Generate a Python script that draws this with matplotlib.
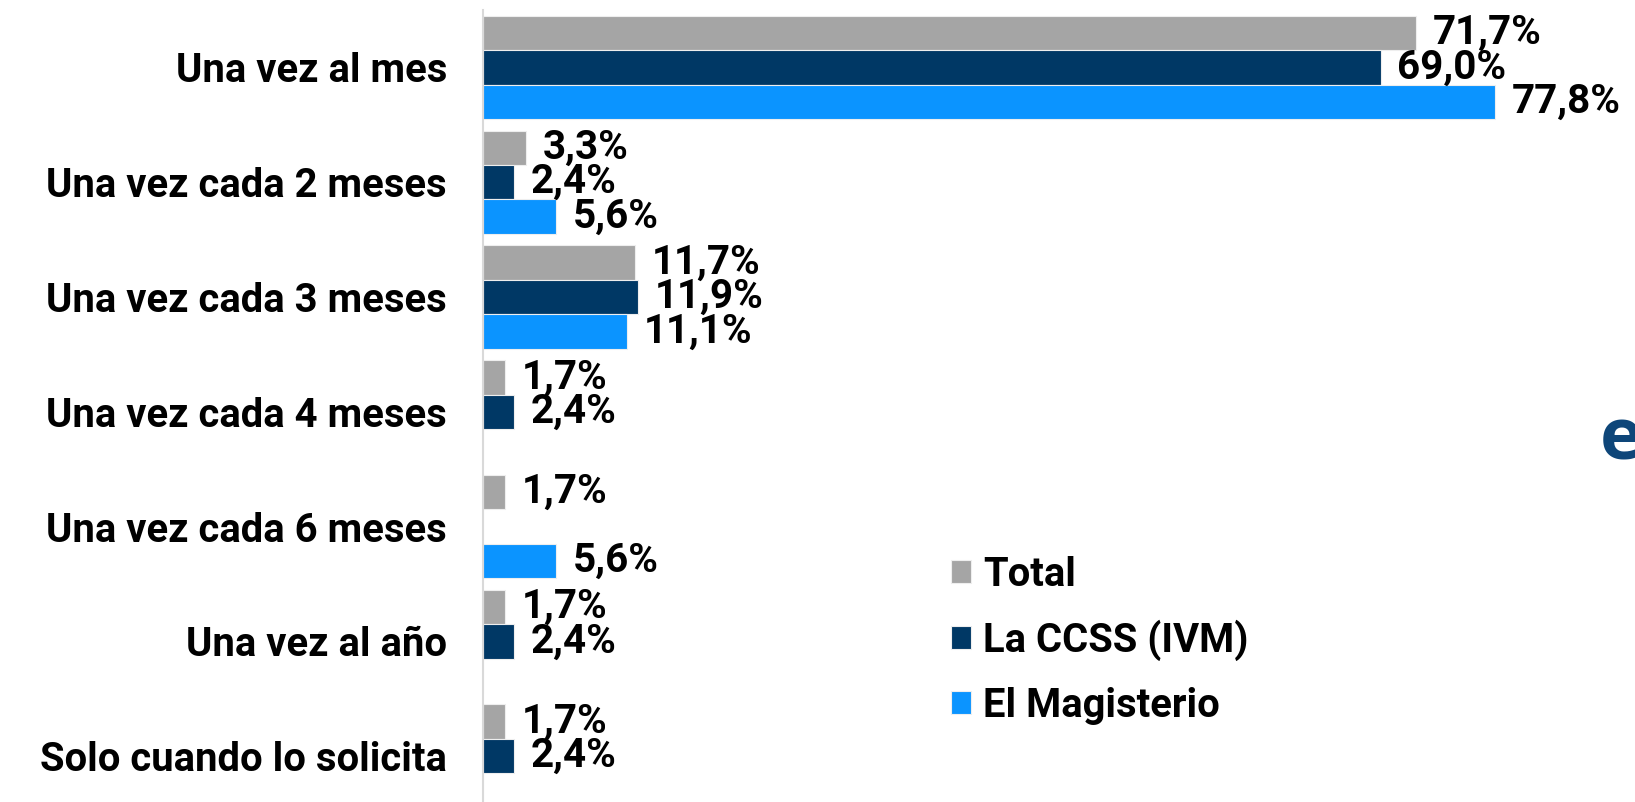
import matplotlib
matplotlib.use("Agg")
import matplotlib.pyplot as plt
import numpy as np

categories = ["Una vez al mes", "Una vez cada 2 meses", "Una vez cada 3 meses",
              "Una vez cada 4 meses", "Una vez cada 6 meses", "Una vez al año",
              "Solo cuando lo solicita"]
series_names = ["Total", "La CCSS (IVM)", "El Magisterio"]
total = [71.7, 3.3, 11.7, 1.7, 1.7, 1.7, 1.7]
ccss = [69.0, 2.4, 11.9, 2.4, None, 2.4, 2.4]
magisterio = [77.8, 5.6, 11.1, None, 5.6, None, None]
colors = ["#A5A5A5", "#003865", "#0B94FF"]

plt.rcParams['font.family'] = ['Roboto', 'DejaVu Sans']
plt.rcParams['font.weight'] = 'bold'

FS = 29.1
FS_TICK = 28.8
W, H = 1635, 802
fig = plt.figure(figsize=(W / 100, H / 100), dpi=100)
left_px = 483
ax = fig.add_axes([left_px / W, 0, 1 - left_px / W, (H - 10) / H])

y = np.arange(len(categories))
bh = 0.30
offsets = [-0.30, 0.0, 0.30]
for vals, name, col, off in zip([total, ccss, magisterio], series_names, colors, offsets):
    v = np.array([np.nan if x is None else x for x in vals], dtype=float)
    ax.barh(y + off, np.nan_to_num(v), height=bh, color=col, edgecolor="#EEEEEE",
            linewidth=0.8, label=name)
    for yi, val in zip(y, v):
        if not np.isnan(val):
            ax.annotate(f"{val:.1f}%".replace(".", ","), xy=(val, yi + off),
                        xytext=(12, 0), textcoords="offset points",
                        va="center", ha="left", fontsize=FS, fontweight="bold",
                        color="black")

ax.set_xlim(0, (W - left_px) / 13.01)
ax.set_ylim(6.40, -0.50)
ax.set_yticks(y)
ax.set_yticklabels(categories, fontsize=FS_TICK, fontweight="bold")
ax.tick_params(axis="y", length=0, pad=26)
ax.set_xticks([])
for s in ["top", "right", "bottom"]:
    ax.spines[s].set_visible(False)
ax.spines["left"].set_color("#D9D9D9")
ax.spines["left"].set_linewidth(1.5)

fig.legend(loc="upper left", bbox_to_anchor=(951 / W, 1 - 556 / H), frameon=False,
           handlelength=0.5, handleheight=0.5, handletextpad=0.3,
           labelspacing=0.64, borderpad=0, borderaxespad=0,
           prop={"weight": "bold", "size": FS_TICK})

fig.text(1600 / W, 1 - 459 / H, "e", fontsize=52, fontweight="bold",
         family="Open Sans", color="#0E4679", ha="left", va="baseline")

fig.savefig("out.png", dpi=100)
